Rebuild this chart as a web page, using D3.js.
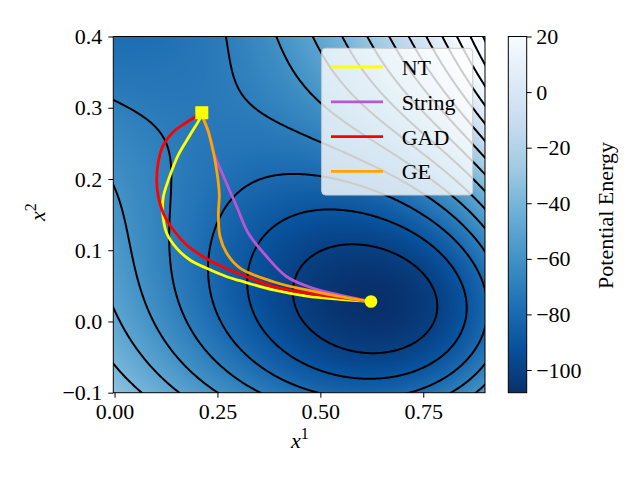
<!DOCTYPE html>
<html>
<head>
<meta charset="utf-8">
<script src="https://cdn.jsdelivr.net/npm/d3@7"></script>
<style>
body { margin: 0; background: #fff; }
svg { display: block; font-family: "Liberation Serif", "DejaVu Serif", serif; }
</style>
</head>
<body>
<script>
// Muller-Brown surface parameters
var mbA  = [-200, -100, -170, 15],
    mba  = [-1, -1, -6.5, 0.7],
    mbb  = [0, 0, 11, 0.6],
    mbc  = [-10, -10, -6.5, 0.7],
    mbX0 = [1, 0, -0.5, -1],
    mbY0 = [0, 0.5, 1.5, 1];

var levels = [-100, -90, -80, -70, -60, -50, -40, -30, -20, -10, 0, 10, 20, 30, 40];
var vmax = 20;

var xTicks = [0, 0.25, 0.5, 0.75],
    yTicks = [-0.1, 0, 0.1, 0.2, 0.3, 0.4],
    cbTicks = [20, 0, -20, -40, -60, -80, -100];

// paths (x1, x2)
var ntX = [0.212, 0.2077, 0.1834, 0.1550, 0.1336, 0.1186, 0.1171, 0.1268, 0.1511, 0.1834, 0.2240, 0.2726, 0.3049, 0.3858, 0.4670, 0.5479, 0.623],
    ntY = [0.293, 0.2852, 0.2617, 0.2337, 0.2030, 0.1751, 0.1518, 0.1238, 0.1027, 0.0863, 0.0746, 0.0628, 0.0572, 0.0442, 0.0357, 0.0311, 0.028];
var stringX = [0.212, 0.2157, 0.2279, 0.2400, 0.2685, 0.2969, 0.3251, 0.3698, 0.4184, 0.4830, 0.5479, 0.623],
    stringY = [0.293, 0.2852, 0.2664, 0.2383, 0.1986, 0.1611, 0.1238, 0.0909, 0.0628, 0.0465, 0.0371, 0.028];
var gadX = [0.212, 0.1956, 0.1689, 0.1429, 0.1186, 0.1064, 0.1025, 0.1064, 0.1186, 0.1429, 0.1754, 0.2157, 0.2643, 0.3212, 0.3858, 0.4670, 0.5479, 0.623],
    gadY = [0.293, 0.2870, 0.2772, 0.2664, 0.2477, 0.2243, 0.1986, 0.1751, 0.1518, 0.1284, 0.1073, 0.0909, 0.0760, 0.0628, 0.0488, 0.0399, 0.0336, 0.028];
var geX = [0.212, 0.2157, 0.2279, 0.2400, 0.2498, 0.2546, 0.2522, 0.2563, 0.2726, 0.3049, 0.3858, 0.4670, 0.5479, 0.623],
    geY = [0.293, 0.2852, 0.2664, 0.2383, 0.2056, 0.1775, 0.1518, 0.1190, 0.0957, 0.0750, 0.0558, 0.0442, 0.0348, 0.028];

var names = ["NT", "String", "GAD", "GE"],
    colors = ["#ffff00", "#ba55d3", "#ff0000", "#ffa500"];
var pathsX = [ntX, stringX, gadX, geX],
    pathsY = [ntY, stringY, gadY, geY];

var saddle = [0.212, 0.293],
    minimum = [0.623, 0.028];

var blues = ["#f7fbff", "#deebf7", "#c6dbef", "#9ecae1", "#6baed6", "#4292c6", "#2171b5", "#08519c", "#08306b"];

function potential(px, py) {
  var v = 0
  for (var k = 0; k < 4; k++) {
    var dx = px - mbX0[k], dy = py - mbY0[k]
    v += mbA[k] * Math.exp(mba[k] * dx * dx + mbb[k] * dx * dy + mbc[k] * dy * dy)
  }
  return v
}

var pLeft = 113.3, pRight = 485, pTop = 36.5, pBottom = 392.7

var x = d3.scaleLinear().domain([-0.003, 0.9]).range([pLeft, pRight]),
    y = d3.scaleLinear().domain([-0.1, 0.4]).range([pBottom, pTop])

var svg = d3.select("body").append("svg")
    .attr("width", 640)
    .attr("height", 480)

svg.append("defs").append("clipPath").attr("id", "plotclip")
  .append("rect")
    .attr("x", pLeft).attr("y", pTop)
    .attr("width", pRight - pLeft).attr("height", pBottom - pTop)

// heat map
var cw = Math.ceil(pRight - pLeft), ch = Math.ceil(pBottom - pTop)
var field = new Float64Array(cw * ch)
for (var j = 0; j < ch; j++) {
  for (var i = 0; i < cw; i++) {
    field[j * cw + i] = potential(x.invert(pLeft + (i + 0.5) * (pRight - pLeft) / cw),
                                  y.invert(pTop + (j + 0.5) * (pBottom - pTop) / ch))
  }
}
var vmin = d3.min(field)

var color = d3.scaleLinear()
    .domain(blues.map(function(d, i) { return vmin + i * (vmax - vmin) / 8 }))
    .range(blues.slice().reverse())
    .clamp(true)

var canvas = document.createElement("canvas")
canvas.width = cw
canvas.height = ch
var ctx = canvas.getContext("2d")
var img = ctx.createImageData(cw, ch)
for (var p = 0; p < cw * ch; p++) {
  var c = d3.rgb(color(field[p]))
  img.data[4 * p] = c.r
  img.data[4 * p + 1] = c.g
  img.data[4 * p + 2] = c.b
  img.data[4 * p + 3] = 255
}
ctx.putImageData(img, 0, 0)

var plot = svg.append("g").attr("clip-path", "url(#plotclip)")

plot.append("image")
    .attr("x", pLeft).attr("y", pTop)
    .attr("width", pRight - pLeft).attr("height", pBottom - pTop)
    .attr("preserveAspectRatio", "none")
    .attr("href", canvas.toDataURL())

// contour lines
var nx = 320, ny = 260
var gx0 = -0.01, gx1 = 0.91, gy0 = -0.11, gy1 = 0.41
var sx = (gx1 - gx0) / (nx - 1), sy = (gy1 - gy0) / (ny - 1)
var grid = new Float64Array(nx * ny)
for (var j = 0; j < ny; j++)
  for (var i = 0; i < nx; i++)
    grid[j * nx + i] = potential(gx0 + i * sx, gy0 + j * sy)

var contours = d3.contours().size([nx, ny]).thresholds(levels)(grid)
var proj = d3.geoTransform({
  point: function(cx, cy) {
    this.stream.point(x(gx0 + (cx - 0.5) * sx), y(gy0 + (cy - 0.5) * sy))
  }
})
plot.selectAll(".contour")
    .data(contours)
  .enter().append("path")
    .attr("class", "contour")
    .attr("d", d3.geoPath(proj))
    .attr("fill", "none")
    .attr("stroke", "#000")
    .attr("stroke-width", 2)

// paths
var line = d3.line()
    .x(function(d) { return x(d[0]) })
    .y(function(d) { return y(d[1]) })
    .curve(d3.curveCatmullRom)

plot.selectAll(".mep")
    .data(names)
  .enter().append("path")
    .attr("class", "mep")
    .attr("d", function(d, i) { return line(pathsX[i].map(function(v, k) { return [v, pathsY[i][k]] })) })
    .attr("fill", "none")
    .attr("stroke", function(d, i) { return colors[i] })
    .attr("stroke-width", 2.8)

plot.append("rect")
    .attr("x", x(saddle[0]) - 6.5).attr("y", y(saddle[1]) - 6.5)
    .attr("width", 13).attr("height", 13)
    .attr("fill", "#ffff00")

plot.append("circle")
    .attr("cx", x(minimum[0])).attr("cy", y(minimum[1]))
    .attr("r", 6.3)
    .attr("fill", "#ffff00")

// axes
var xAxis = svg.append("g")
    .attr("transform", "translate(0," + pBottom + ")")
    .call(d3.axisBottom(x).tickValues(xTicks).tickSize(5).tickPadding(5.5)
      .tickFormat(d3.format(".2f")))
var yAxis = svg.append("g")
    .attr("transform", "translate(" + pLeft + ",0)")
    .call(d3.axisLeft(y).tickValues(yTicks).tickSize(5).tickPadding(6)
      .tickFormat(function(d) { return d < 0 ? "\u2212" + d3.format(".1f")(-d) : d3.format(".1f")(d) }))

svg.append("rect")
    .attr("x", pLeft).attr("y", pTop)
    .attr("width", pRight - pLeft).attr("height", pBottom - pTop)
    .attr("fill", "none").attr("stroke", "#000").attr("stroke-width", 1)

var xl = svg.append("text")
    .attr("x", x(0.45)).attr("y", 448)
    .attr("text-anchor", "middle")
    .attr("font-size", 22)
xl.append("tspan").attr("font-style", "italic").text("x")
xl.append("tspan").attr("font-size", 16).attr("dy", -9).text("1")

var yl = svg.append("text")
    .attr("transform", "translate(45,212) rotate(-90)")
    .attr("text-anchor", "middle")
    .attr("font-size", 22)
yl.append("tspan").attr("font-style", "italic").text("x")
yl.append("tspan").attr("font-size", 16).attr("dy", -9).text("2")

// legend
var lg = svg.append("g")
lg.append("rect")
    .attr("x", 321.7).attr("y", 48.3)
    .attr("width", 151).attr("height", 146.7)
    .attr("rx", 4)
    .attr("fill", "#fff").attr("fill-opacity", 0.8)
    .attr("stroke", "#cccccc").attr("stroke-width", 1)
var items = lg.selectAll(".item")
    .data(names)
  .enter().append("g")
    .attr("class", "item")
    .attr("transform", function(d, i) { return "translate(0," + (67 + i * 34.8) + ")" })
items.append("line")
    .attr("x1", 331).attr("x2", 383)
    .attr("stroke", function(d, i) { return colors[i] })
    .attr("stroke-width", 2.8)
items.append("text")
    .attr("x", 401.7).attr("y", 8)
    .attr("font-size", 22)
    .text(function(d) { return d })

// colorbar
var cbLeft = 508.3, cbRight = 526.7
var cb = d3.scaleLinear().domain([vmin, vmax]).range([pBottom, pTop])
var grad = svg.select("defs").append("linearGradient")
    .attr("id", "cbgrad")
    .attr("x1", 0).attr("y1", 1).attr("x2", 0).attr("y2", 0)
grad.selectAll("stop")
    .data(blues.slice().reverse())
  .enter().append("stop")
    .attr("offset", function(d, i) { return i / 8 })
    .attr("stop-color", function(d) { return d })
svg.append("rect")
    .attr("x", cbLeft).attr("y", pTop)
    .attr("width", cbRight - cbLeft).attr("height", pBottom - pTop)
    .attr("fill", "url(#cbgrad)")
    .attr("stroke", "#000").attr("stroke-width", 1)

var cbAxis = svg.append("g")
    .attr("transform", "translate(" + cbRight + ",0)")
    .call(d3.axisRight(cb).tickValues(cbTicks).tickSize(5).tickPadding(4.5)
      .tickFormat(function(d) { return d < 0 ? "\u2212" + (-d) : d }))

svg.selectAll(".domain").remove()
svg.selectAll("g[font-family]").attr("font-family", null).attr("font-size", 22)
svg.selectAll(".tick line").attr("stroke", "#000").attr("stroke-width", 1)
svg.selectAll(".tick text").attr("fill", "#000")

svg.append("text")
    .attr("transform", "translate(612.5,215.5) rotate(-90)")
    .attr("text-anchor", "middle")
    .attr("font-size", 22)
    .text("Potential Energy")
</script>
</body>
</html>
